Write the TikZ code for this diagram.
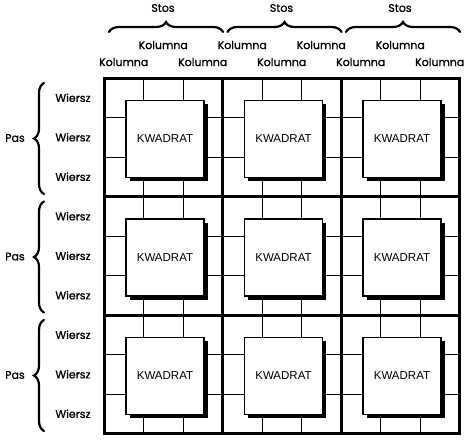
\documentclass[tikz,border=0pt]{standalone}
\usepackage{fontspec}
\setmainfont[FakeBold=1]{Poppins}
\newfontfamily\boxfont{Liberation Sans}
\usetikzlibrary{decorations.pathreplacing,shadows}

\begin{document}
\begin{tikzpicture}[x=1pt,y=-1pt,
    lbl/.style={font=\fontsize{11}{13}\selectfont},
    kwadrat/.style={draw,line width=1.6pt,fill=white,minimum width=78pt,minimum height=77pt,
      font=\boxfont\fontsize{11.5}{13}\selectfont,
      drop shadow={shadow xshift=3.5pt,shadow yshift=-3.5pt,fill=black,opacity=1}},
    klamra/.style={decorate,decoration={brace,amplitude=10pt},line width=2.2pt,line cap=round}]
  \useasboundingbox (0,0) rectangle (467,442);
  % thin grid
  \foreach \i in {1,2,4,5,7,8} {
    \draw[line width=0.8pt] (104+39.5*\i,78) -- (104+39.5*\i,433.5);
    \draw[line width=0.8pt] (104,78+39.5*\i) -- (459.5,78+39.5*\i);
  }
  % squares
  \foreach \r in {0,1,2}
    \foreach \c in {0,1,2}
      \node[kwadrat] (kw\r\c) at (104+118.5*\c+61,78+118.5*\r+61) {KWADRAT};
  % thick lines
  \foreach \i in {0,1,2,3} {
    \draw[line width=3pt] (104+118.5*\i,78) -- (104+118.5*\i,433.5);
    \draw[line width=3pt] (102.5,78+118.5*\i) -- (461,78+118.5*\i);
  }
  % top labels
  \foreach \b in {0,1,2} {
    \node[lbl] (stos\b) at (104+118.5*\b+59,8) {Stos};
    \draw[klamra] (109+118.5*\b,32) -- (223+118.5*\b,32);
  }
  \foreach \j in {1,...,9} {
    \pgfmathsetmacro{\ky}{iseven(\j) ? 45 : 62}
    \node[lbl] (kol\j) at (104+39.5*\j-19.75,\ky) {Kolumna};
  }
  % left labels
  \foreach \j in {1,...,9}
    \node[lbl] (wiersz\j) at (73,78+39.5*\j-19.75) {Wiersz};
  \foreach \b in {0,1,2} {
    \node[lbl] (pas\b) at (15,78+118.5*\b+60) {Pas};
    \draw[klamra] (44,78+118.5*\b+116) -- (44,78+118.5*\b+5);
  }
\end{tikzpicture}
\end{document}
